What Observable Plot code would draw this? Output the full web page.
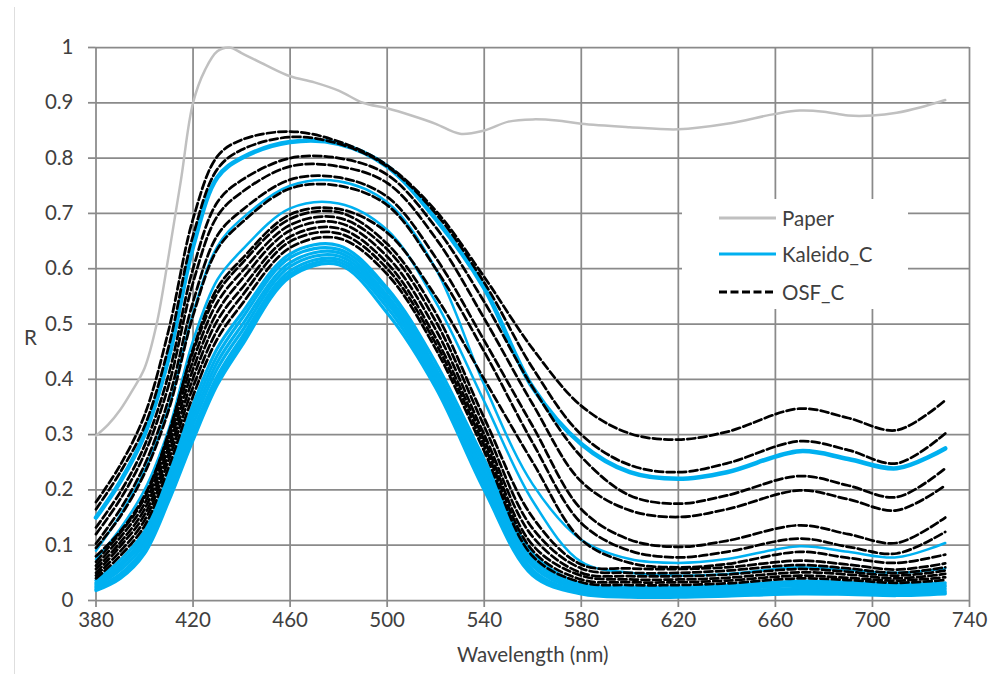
<!DOCTYPE html>
<html>
<head>
<meta charset="utf-8">
<script src="https://cdn.jsdelivr.net/npm/d3@7"></script>
<script src="https://cdn.jsdelivr.net/npm/@observablehq/plot@0.6"></script>
<style>
  html, body { margin: 0; padding: 0; background: #fff; }
  #wrap { position: relative; width: 1003px; height: 674px; overflow: hidden; font-family: Lato, "Noto Sans", sans-serif; }
  #frame { position: absolute; left: 14px; top: 7px; width: 1px; bottom: 0; background: #dedede; }
  #legend { position: absolute; left: 682px; top: 199px; width: 226px; height: 110px; background: #fff; }
  .row { position: absolute; left: 37px; height: 24px; display: flex; align-items: center; font-size: 20.5px; color: #404040; }
  .row svg { width: 57px; height: 6px; margin-right: 6px; }
</style>
</head>
<body>
<div id="wrap">
  <div id="frame"></div>
  <div id="chart"></div>
  <div id="legend"></div>
</div>
<script>
// Wavelengths (nm) at which every Kaleido_C / OSF_C spectrum is sampled
const wavelength = [380, 390, 400, 410, 420, 430, 440, 460, 480, 500, 520, 540, 560, 580, 600, 620, 640, 670, 690, 710, 730];

// Unprinted paper reflectance
const paperWavelength = [380, 385, 390, 395, 400, 405, 410, 415, 420, 425, 430, 435, 440, 450, 460, 470, 480, 490, 500, 510, 520, 530, 540, 550, 560, 570, 580, 600, 620, 640, 660, 670, 680, 690, 700, 710, 720, 730];
const paperR = [0.298, 0.318, 0.345, 0.38, 0.42, 0.50, 0.625, 0.76, 0.90, 0.96, 0.993, 1.0, 0.99, 0.968, 0.948, 0.937, 0.922, 0.90, 0.89, 0.877, 0.862, 0.844, 0.85, 0.866, 0.87, 0.868, 0.862, 0.856, 0.852, 0.862, 0.88, 0.886, 0.884, 0.877, 0.877, 0.882, 0.892, 0.905];

// Kaleido_C cyan patches, one row per patch (R at each wavelength above)
const kaleidoC = [
  [0.150, 0.215, 0.300, 0.440, 0.640, 0.765, 0.800, 0.829, 0.826, 0.785, 0.690, 0.565, 0.385, 0.283, 0.232, 0.220, 0.232, 0.270, 0.256, 0.239, 0.275],
  [0.090, 0.155, 0.235, 0.350, 0.520, 0.640, 0.690, 0.750, 0.758, 0.720, 0.600, 0.390, 0.210, 0.110, 0.075, 0.068, 0.075, 0.098, 0.088, 0.078, 0.104],
  [0.075, 0.130, 0.200, 0.310, 0.470, 0.580, 0.633, 0.709, 0.718, 0.670, 0.540, 0.360, 0.180, 0.070, 0.050, 0.045, 0.048, 0.060, 0.055, 0.050, 0.058],
  [0.036, 0.073, 0.125, 0.229, 0.354, 0.456, 0.519, 0.627, 0.642, 0.565, 0.430, 0.255, 0.085, 0.030, 0.024, 0.024, 0.027, 0.035, 0.033, 0.029, 0.032],
  [0.032, 0.066, 0.118, 0.220, 0.342, 0.443, 0.509, 0.620, 0.635, 0.560, 0.420, 0.245, 0.075, 0.026, 0.020, 0.020, 0.023, 0.031, 0.029, 0.025, 0.028],
  [0.029, 0.061, 0.110, 0.211, 0.330, 0.431, 0.497, 0.611, 0.629, 0.552, 0.413, 0.235, 0.068, 0.022, 0.017, 0.017, 0.020, 0.027, 0.025, 0.022, 0.025],
  [0.026, 0.055, 0.103, 0.202, 0.318, 0.419, 0.486, 0.604, 0.623, 0.545, 0.405, 0.228, 0.062, 0.019, 0.013, 0.013, 0.016, 0.022, 0.021, 0.018, 0.021],
  [0.023, 0.048, 0.095, 0.193, 0.306, 0.406, 0.475, 0.596, 0.617, 0.538, 0.398, 0.218, 0.055, 0.016, 0.010, 0.010, 0.012, 0.018, 0.017, 0.014, 0.017],
  [0.020, 0.044, 0.090, 0.186, 0.298, 0.398, 0.467, 0.590, 0.612, 0.530, 0.390, 0.210, 0.050, 0.014, 0.008, 0.008, 0.010, 0.015, 0.014, 0.011, 0.014],
  [0.018, 0.040, 0.085, 0.180, 0.290, 0.390, 0.460, 0.585, 0.607, 0.520, 0.385, 0.200, 0.045, 0.012, 0.006, 0.006, 0.008, 0.012, 0.011, 0.009, 0.012]
];

// OSF_C cyan patches, one row per patch
const osfC = [
  [0.178, 0.245, 0.335, 0.490, 0.690, 0.803, 0.833, 0.848, 0.830, 0.787, 0.705, 0.585, 0.455, 0.352, 0.302, 0.291, 0.305, 0.347, 0.330, 0.308, 0.362],
  [0.165, 0.232, 0.315, 0.460, 0.660, 0.780, 0.815, 0.838, 0.826, 0.785, 0.700, 0.575, 0.420, 0.300, 0.245, 0.232, 0.248, 0.288, 0.272, 0.248, 0.302],
  [0.132, 0.196, 0.280, 0.410, 0.600, 0.720, 0.760, 0.800, 0.800, 0.770, 0.675, 0.540, 0.385, 0.260, 0.190, 0.175, 0.190, 0.225, 0.208, 0.187, 0.239],
  [0.120, 0.183, 0.265, 0.390, 0.575, 0.695, 0.738, 0.785, 0.785, 0.755, 0.655, 0.510, 0.355, 0.215, 0.163, 0.151, 0.165, 0.199, 0.183, 0.163, 0.208],
  [0.103, 0.165, 0.245, 0.365, 0.540, 0.660, 0.705, 0.761, 0.765, 0.730, 0.620, 0.470, 0.315, 0.165, 0.110, 0.097, 0.108, 0.136, 0.120, 0.104, 0.150],
  [0.095, 0.152, 0.230, 0.345, 0.515, 0.635, 0.683, 0.745, 0.750, 0.715, 0.600, 0.450, 0.285, 0.140, 0.090, 0.078, 0.088, 0.112, 0.097, 0.085, 0.124],
  [0.080, 0.125, 0.190, 0.300, 0.455, 0.565, 0.617, 0.698, 0.708, 0.665, 0.550, 0.400, 0.250, 0.110, 0.068, 0.060, 0.066, 0.088, 0.077, 0.068, 0.083],
  [0.070, 0.122, 0.185, 0.304, 0.450, 0.555, 0.609, 0.690, 0.702, 0.645, 0.520, 0.330, 0.150, 0.065, 0.058, 0.057, 0.060, 0.072, 0.065, 0.056, 0.067],
  [0.063, 0.114, 0.175, 0.291, 0.434, 0.539, 0.594, 0.679, 0.692, 0.635, 0.505, 0.315, 0.130, 0.058, 0.050, 0.050, 0.054, 0.064, 0.058, 0.050, 0.060],
  [0.057, 0.105, 0.165, 0.279, 0.418, 0.522, 0.580, 0.669, 0.683, 0.622, 0.490, 0.300, 0.115, 0.050, 0.044, 0.044, 0.047, 0.057, 0.052, 0.045, 0.054],
  [0.050, 0.098, 0.155, 0.267, 0.402, 0.506, 0.564, 0.658, 0.673, 0.610, 0.475, 0.290, 0.100, 0.045, 0.038, 0.038, 0.041, 0.051, 0.047, 0.040, 0.048],
  [0.045, 0.089, 0.145, 0.255, 0.386, 0.489, 0.550, 0.649, 0.664, 0.600, 0.465, 0.280, 0.090, 0.038, 0.033, 0.033, 0.036, 0.045, 0.041, 0.036, 0.042],
  [0.040, 0.081, 0.135, 0.242, 0.370, 0.473, 0.535, 0.638, 0.655, 0.590, 0.455, 0.270, 0.080, 0.033, 0.028, 0.028, 0.031, 0.040, 0.037, 0.032, 0.037]
];

const xTicks = [380, 420, 460, 500, 540, 580, 620, 660, 700, 740];
const yTicks = [0, 0.1, 0.2, 0.3, 0.4, 0.5, 0.6, 0.7, 0.8, 0.9, 1];

const series = [
  {name: "Paper", color: "#c0c0c0", dash: null},
  {name: "Kaleido_C", color: "#00b0f0", dash: null},
  {name: "OSF_C", color: "#000000", dash: "8,3.5"}
];

// Long-format rows for Plot: one row per (patch, wavelength)
const toRows = (curves, key, offset = 0) => curves.flatMap((values, i) =>
  values.map((r, j) => ({id: key + (i + offset), wl: wavelength[j], r})));
const paperRows = paperWavelength.map((wl, i) => ({wl, r: paperR[i]}));
const kaleidoMain = toRows(kaleidoC.slice(0, 1), "k");
const kaleidoThin = toRows(kaleidoC.slice(1, 3), "k", 1);
const kaleidoLow = toRows(kaleidoC.slice(3), "k", 3);
const osfRows = toRows(osfC, "o");

const grid = {stroke: "#8a8a8a", strokeOpacity: 1, strokeWidth: 1.75};
const blue = series[1].color;

const chart = Plot.plot({
  width: 1003,
  height: 674,
  marginLeft: 95.5,
  marginRight: 34,
  marginTop: 47,
  marginBottom: 74,
  style: {fontFamily: "Lato, 'Noto Sans', sans-serif", fontSize: "20.5px", color: "#404040", background: "transparent", overflow: "visible"},
  x: {domain: [380, 740]},
  y: {domain: [0, 1]},
  marks: [
    Plot.gridX(xTicks, grid),
    Plot.gridY(yTicks, grid),
    Plot.axisX(xTicks, {label: null, tickSize: 7, tickPadding: 5, stroke: "#8a8a8a", strokeWidth: 1.75, fill: "#404040"}),
    Plot.axisY(yTicks, {label: null, tickSize: 7.5, tickPadding: 15, stroke: "#8a8a8a", strokeWidth: 1.75, fill: "#404040", tickFormat: d => String(+d.toFixed(1))}),
    Plot.line(paperRows, {x: "wl", y: "r", stroke: series[0].color, strokeWidth: 2.5, curve: "catmull-rom"}),
    Plot.line(kaleidoLow, {x: "wl", y: "r", z: "id", stroke: blue, strokeWidth: 3.2, curve: "catmull-rom"}),
    Plot.line(kaleidoThin, {x: "wl", y: "r", z: "id", stroke: blue, strokeWidth: 2.5, curve: "catmull-rom"}),
    Plot.line(kaleidoMain, {x: "wl", y: "r", z: "id", stroke: blue, strokeWidth: 4.5, curve: "catmull-rom"}),
    Plot.line(osfRows, {x: "wl", y: "r", z: "id", stroke: series[2].color, strokeWidth: 2.75, strokeDasharray: series[2].dash, curve: "catmull-rom"}),
    Plot.text(["Wavelength (nm)"], {frameAnchor: "bottom", dy: 61, text: d => d, fill: "#404040"}),
    Plot.text(["R"], {frameAnchor: "left", textAnchor: "middle", dx: -65.5, dy: 14.5, text: d => d, fill: "#404040"})
  ]
});
document.getElementById("chart").appendChild(chart);

// Legend: white box with a swatch and a name per series
const legend = document.getElementById("legend");
const rowTops = [7, 43, 81];
series.forEach((s, i) => {
  const row = document.createElement("div");
  row.className = "row";
  row.style.top = rowTops[i] + "px";
  row.innerHTML = `<svg viewBox="0 0 57 6"><line x1="0" y1="3" x2="57" y2="3" stroke="${s.color}" stroke-width="3" ${s.dash ? `stroke-dasharray="${s.dash}"` : ""}/></svg><span>${s.name}</span>`;
  legend.appendChild(row);
});
</script>
</body>
</html>
